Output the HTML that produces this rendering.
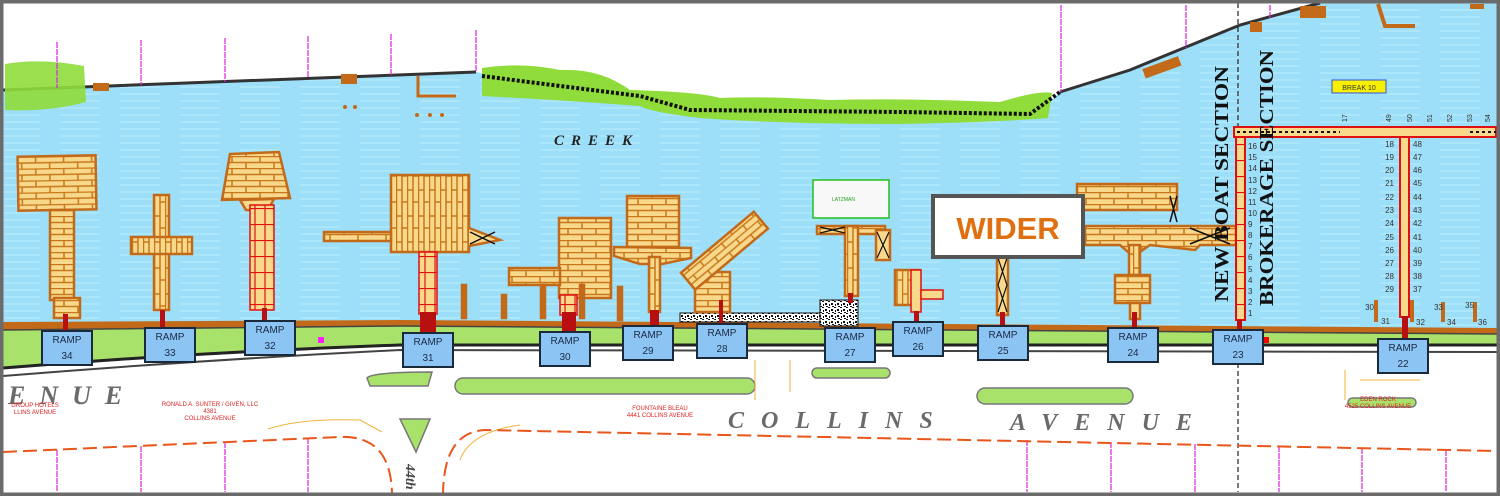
<!DOCTYPE html>
<html><head><meta charset="utf-8"><style>
html,body{margin:0;padding:0;background:#fff}
svg{display:block}
</style></head><body>
<svg width="1500" height="496" viewBox="0 0 1500 496" xmlns="http://www.w3.org/2000/svg" font-family="Liberation Sans, sans-serif">
<defs>
<pattern id="pl" patternUnits="userSpaceOnUse" width="28" height="12">
<rect width="28" height="12" fill="#f8d98c"/>
<path d="M0 0.5H28M0 6.5H28M8 0V6M22 6V12" stroke="#c8781a" stroke-width="1.5"/>
</pattern>
<pattern id="pv" patternUnits="userSpaceOnUse" width="11" height="26">
<rect width="11" height="26" fill="#f8d98c"/>
<path d="M0.5 0V26M6 0V26M0 8H6M6 20H11" stroke="#c8781a" stroke-width="1.5"/>
</pattern>
<pattern id="rg" patternUnits="userSpaceOnUse" width="10" height="16">
<rect width="10" height="16" fill="#f8d98c"/>
<path d="M0 0.5H10M5 0V16" stroke="#e01010" stroke-width="1.2"/>
</pattern>
<pattern id="gr" patternUnits="userSpaceOnUse" width="6" height="6">
<rect width="6" height="6" fill="#fff"/>
<path d="M0 1h2v1H0zM3 3h2v2H3zM1 4h1v2H1zM4 0h2v1H4z" fill="#111"/>
</pattern>
<pattern id="ws" patternUnits="userSpaceOnUse" width="60" height="7">
<rect width="60" height="7" fill="#9ddff8"/>
<path d="M0 3h40" stroke="#b2e8fb" stroke-width="1.5"/>
</pattern>
</defs>

<!-- water -->
<path d="M3 90 L476 72 L560 88 L700 112 L900 116 L1040 112 L1060 92 L1130 70 L1240 25 L1320 3 L1497 3 L1497 330 L400 322 L3 326 Z" fill="url(#ws)"/>
<path d="M3 90 L476 72" stroke="#333" stroke-width="3" fill="none"/>
<path d="M1060 92 L1130 70 L1240 25 L1320 3" stroke="#333" stroke-width="3" fill="none"/>
<path d="M5 64 Q40 58 84 66 L86 102 Q50 112 5 110 Z" fill="#8fdc3a" opacity="0.9"/>
<path d="M482 68 Q520 62 560 70 Q600 68 630 90 Q700 92 720 98 Q760 96 830 100 Q900 98 1000 102 Q1040 90 1052 93 L1048 118 Q1000 122 900 124 Q780 124 700 118 Q650 112 640 106 Q560 100 482 96 Z" fill="#8fdc3a"/>
<path d="M482 76 L560 86 L640 96 L690 110 L900 112 L1030 114 L1060 92" stroke="#111" stroke-width="4" stroke-dasharray="3 2" fill="none"/>
<rect x="93" y="83" width="16" height="8" fill="#c26a1a"/>
<rect x="341" y="74" width="16" height="10" fill="#c26a1a"/>
<path d="M418 76V96H456" stroke="#c26a1a" stroke-width="3" fill="none"/>
<circle cx="345" cy="107" r="2" fill="#c26a1a"/><circle cx="355" cy="107" r="2" fill="#c26a1a"/>
<circle cx="417" cy="115" r="2" fill="#c26a1a"/><circle cx="430" cy="115" r="2" fill="#c26a1a"/><circle cx="442" cy="115" r="2" fill="#c26a1a"/>
<rect x="1143" y="63" width="38" height="10" fill="#c26a1a" transform="rotate(-20 1160 68)"/>
<rect x="1250" y="22" width="12" height="10" fill="#c26a1a"/>
<rect x="1300" y="6" width="26" height="12" fill="#c26a1a"/>
<path d="M1378 4L1385 26H1415" stroke="#c26a1a" stroke-width="4" fill="none"/>
<rect x="1470" y="4" width="14" height="5" fill="#c26a1a"/>
<g stroke="#e020e0" stroke-width="1.2" stroke-dasharray="6 1">
<path d="M57 42V88M141 40V85M225 38V82M308 36V78M391 34V76M476 30V72M1061 5V92M1186 5V48M1270 5V18"/>
<path d="M57 450V492M141 446V492M225 442V492M308 438V492M1027 440V492M1111 442V492M1195 444V492M1279 446V492M1362 448V492M1446 450V492"/>
</g>
<path d="M1238 3V492" stroke="#222" stroke-width="1.2" stroke-dasharray="5 3"/>

<path d="M3 322 L400 320 L1497 328 L1497 334 L400 326 L3 330Z" fill="#c26a1a"/>
<path d="M3 330 L400 326 L1497 334 L1497 345 L400 345 Q200 352 3 368Z" fill="#a8e26a"/>
<path d="M3 368 Q200 352 400 345 L1497 345" stroke="#222" stroke-width="3" fill="none"/>
<path d="M3 376 Q200 360 400 350 L1497 352" stroke="#444" stroke-width="2" fill="none"/>
<path d="M3 330 L400 326 L1497 334" stroke="#444" stroke-width="1.5" fill="none"/>
<rect x="318" y="337" width="6" height="6" fill="#ff20ff"/>
<rect x="680" y="313" width="140" height="9" fill="url(#gr)" stroke="#111"/>
<rect x="820" y="300" width="38" height="26" fill="url(#gr)" stroke="#111"/>

<g fill="#a8e26a" stroke="#777" stroke-width="1.5">
<path d="M367 378 Q372 372 432 372 L428 386 L370 386Z"/>
<path d="M400 419 L430 419 L416 452Z"/>
<rect x="455" y="378" width="300" height="16" rx="8"/>
<rect x="812" y="368" width="78" height="10" rx="5"/>
<rect x="977" y="388" width="156" height="16" rx="8"/>
<rect x="1348" y="398" width="68" height="9" rx="4.5"/>
</g>
<g stroke="#f2b13a" stroke-width="1" fill="none">
<path d="M268 429 Q300 418 360 420 L382 432"/>
<path d="M460 460 Q470 432 520 425"/>
<path d="M755 360 V 400 M790 360V392 M1345 370V400 M1360 380H1420"/>
</g>
<g stroke="#e8561a" stroke-width="2" fill="none">
<path d="M3 452 L340 437 Q392 435 392 496" stroke-dasharray="14 6"/>
<path d="M443 496 Q443 432 485 430 L1497 451" stroke-dasharray="14 6"/>
</g>

<g font-family="Liberation Serif, serif" font-style="italic" font-weight="bold" fill="#6a6a6a">
<text x="8" y="404" font-size="26" letter-spacing="14">ENUE</text>
<text x="728" y="428" font-size="24" letter-spacing="17">COLLINS</text>
<text x="1010" y="430" font-size="24" letter-spacing="17">AVENUE</text>
<text x="554" y="145" font-size="15" letter-spacing="7" fill="#222">CREEK</text>
<text x="410" y="480" font-size="14" transform="rotate(90 416 470)" fill="#444">44th</text>
</g>
<g fill="#e02020" font-size="6" text-anchor="middle">
<text x="35" y="407">GROUP HOTELS</text><text x="35" y="414">LLINS AVENUE</text>
<text x="210" y="406">RONALD A. SUNTER / GIVEN, LLC</text><text x="210" y="413">4381</text><text x="210" y="420">COLLINS AVENUE</text>
<text x="660" y="410">FOUNTAINE BLEAU</text><text x="660" y="417">4441 COLLINS AVENUE</text>
<text x="1378" y="401">EDEN ROCK</text><text x="1378" y="408">4525 COLLINS AVENUE</text>
</g>

<g stroke="#c26a1a" stroke-width="2.5">
<rect x="18" y="156" width="78" height="54" fill="url(#pl)" transform="rotate(-1 57 183)"/>
<rect x="50" y="210" width="24" height="90" fill="url(#pl)"/>
<rect x="54" y="298" width="26" height="20" fill="url(#pl)"/>
<rect x="154" y="195" width="15" height="115" fill="url(#pv)"/>
<rect x="131" y="237" width="61" height="17" fill="url(#pv)"/>
<path d="M230 154 L279 152 L290 198 L222 200Z" fill="url(#pl)"/>
<path d="M240 200 L274 199 L268 210 L246 210Z" fill="#f8d98c"/>
<rect x="250" y="205" width="24" height="105" fill="url(#rg)" stroke="#e01010" stroke-width="1.5"/>
<rect x="391" y="175" width="78" height="77" fill="url(#pv)"/>
<rect x="324" y="232" width="67" height="9" fill="url(#pl)"/>
<rect x="419" y="252" width="18" height="62" fill="url(#rg)" stroke="#e01010" stroke-width="1.5"/>
<path d="M469 228 L500 240 L469 246" fill="#f8d98c"/>
<path d="M470 232 L495 244 M495 232 L470 244" stroke="#111" stroke-width="1.5"/>
<rect x="462" y="285" width="4" height="33" fill="#c26a1a"/>
<rect x="559" y="218" width="52" height="80" fill="url(#pl)"/>
<rect x="509" y="268" width="51" height="17" fill="url(#pl)"/>
<rect x="560" y="295" width="17" height="20" fill="url(#rg)" stroke="#e01010" stroke-width="1.5"/>
<rect x="502" y="295" width="4" height="23" fill="#c26a1a"/>
<rect x="541" y="285" width="4" height="33" fill="#c26a1a"/>
<rect x="580" y="285" width="4" height="33" fill="#c26a1a"/>
<rect x="618" y="287" width="4" height="33" fill="#c26a1a"/>
<rect x="627" y="196" width="52" height="51" fill="url(#pl)"/>
<path d="M614 247 L691 248 L691 258 L662 264 L640 264 L614 256Z" fill="url(#pl)"/>
<rect x="649" y="257" width="11" height="55" fill="url(#pv)"/>
<rect x="695" y="272" width="35" height="40" fill="url(#pl)"/>
<rect x="700" y="255" width="95" height="22" fill="url(#pl)" transform="rotate(-40 715 290)"/>
<rect x="817" y="226" width="68" height="8" fill="url(#pl)"/>
<rect x="845" y="226" width="13" height="70" fill="url(#pv)"/>
<rect x="876" y="230" width="14" height="30" fill="#f8d98c"/>
<path d="M877 232L889 258M889 232L877 258M820 227L845 233M845 227L820 233" stroke="#111" stroke-width="1.2"/>
<rect x="895" y="270" width="25" height="35" fill="url(#pv)"/>
<rect x="911" y="270" width="10" height="42" fill="#f8d98c" stroke="#e01010" stroke-width="1.5"/>
<rect x="921" y="290" width="22" height="9" fill="#f8d98c" stroke="#e01010" stroke-width="1.5"/>
<rect x="997" y="255" width="11" height="60" fill="#f8d98c"/>
<path d="M998 258L1007 285L998 312M1007 258L998 285L1007 312" stroke="#111" stroke-width="1.2" fill="none"/>
<rect x="1077" y="184" width="100" height="26" fill="url(#pl)"/>
<path d="M1170 196L1177 222M1177 196L1170 222" stroke="#111" stroke-width="1.5"/>
<path d="M1085 226 L1236 226 L1236 245 L1200 245 L1195 250 L1150 245 L1140 252 L1128 252 L1120 245 L1085 245Z" fill="url(#pl)"/>
<path d="M1190 228L1230 244M1230 228L1190 244" stroke="#111" stroke-width="1.5"/>
<rect x="1129" y="245" width="11" height="30" fill="url(#pv)"/>
<rect x="1115" y="275" width="35" height="28" fill="url(#pl)"/>
<rect x="1130" y="303" width="10" height="16" fill="#f8d98c"/>
</g>
<rect x="813" y="180" width="76" height="38" fill="#f8f8f8" stroke="#20c020" stroke-width="1.5"/>
<text x="832" y="201" font-size="5" fill="#20a020">LATZMAN</text>
<g stroke="#e01010" stroke-width="2">
<rect x="1234" y="127" width="262" height="10" fill="#f8d98c"/>
<rect x="1236" y="137" width="9" height="183" fill="url(#rg)"/>
<rect x="1400" y="137" width="9" height="180" fill="#f8d98c"/>
</g>
<path d="M1237 132 H1340 M1470 132H1496" stroke="#111" stroke-width="2" stroke-dasharray="3 3"/>
<g stroke="#c26a1a" stroke-width="4"><path d="M1376 300V322M1412 300V322M1443 302V322M1475 302V322"/></g>
<g fill="#b81010">
<rect x="63" y="314" width="5" height="16"/><rect x="160" y="310" width="5" height="18"/>
<rect x="262" y="308" width="5" height="14"/><rect x="420" y="312" width="16" height="21"/>
<rect x="562" y="312" width="14" height="20"/><rect x="650" y="310" width="9" height="16"/>
<rect x="719" y="300" width="4" height="25"/><rect x="848" y="293" width="5" height="10"/>
<rect x="914" y="311" width="5" height="11"/><rect x="1000" y="312" width="5" height="14"/>
<rect x="1132" y="312" width="5" height="16"/><rect x="1237" y="320" width="5" height="10"/>
<rect x="1402" y="316" width="6" height="23"/><rect x="1263" y="337" width="6" height="6" fill="#f00"/>
</g>

<g font-size="10" fill="#1a2a44" text-anchor="middle">
<g stroke="#1a2a3a" stroke-width="2" fill="#8cc4f4">
<rect x="42" y="331" width="50" height="34"/><rect x="145" y="328" width="50" height="34"/>
<rect x="245" y="321" width="50" height="34"/><rect x="403" y="333" width="50" height="34"/>
<rect x="540" y="332" width="50" height="34"/><rect x="623" y="326" width="50" height="34"/>
<rect x="697" y="324" width="50" height="34"/><rect x="825" y="328" width="50" height="34"/>
<rect x="893" y="322" width="50" height="34"/><rect x="978" y="326" width="50" height="34"/>
<rect x="1108" y="328" width="50" height="34"/><rect x="1213" y="330" width="50" height="34"/>
<rect x="1378" y="339" width="50" height="34"/>
</g>
<text x="67" y="343">RAMP</text><text x="67" y="359">34</text>
<text x="170" y="340">RAMP</text><text x="170" y="356">33</text>
<text x="270" y="333">RAMP</text><text x="270" y="349">32</text>
<text x="428" y="345">RAMP</text><text x="428" y="361">31</text>
<text x="565" y="344">RAMP</text><text x="565" y="360">30</text>
<text x="648" y="338">RAMP</text><text x="648" y="354">29</text>
<text x="722" y="336">RAMP</text><text x="722" y="352">28</text>
<text x="850" y="340">RAMP</text><text x="850" y="356">27</text>
<text x="918" y="334">RAMP</text><text x="918" y="350">26</text>
<text x="1003" y="338">RAMP</text><text x="1003" y="354">25</text>
<text x="1133" y="340">RAMP</text><text x="1133" y="356">24</text>
<text x="1238" y="342">RAMP</text><text x="1238" y="358">23</text>
<text x="1403" y="351">RAMP</text><text x="1403" y="367">22</text>
</g>

<rect x="933" y="196" width="150" height="61" fill="#fff" stroke="#555" stroke-width="4"/>
<text x="1008" y="239" font-size="31" font-weight="bold" fill="#e0700f" text-anchor="middle">WIDER</text>

<g font-family="Liberation Serif, serif" font-weight="bold" font-size="20" fill="#111">
<text transform="translate(1228 302) rotate(-90)" textLength="236" lengthAdjust="spacingAndGlyphs">NEW BOAT SECTION</text>
<text transform="translate(1273 306) rotate(-90)" textLength="256" lengthAdjust="spacingAndGlyphs">BROKERAGE SECTION</text>
</g>
<rect x="1332" y="80" width="54" height="13" fill="#f8f000" stroke="#3050e0" stroke-width="1"/>
<text x="1359" y="90" font-size="7" fill="#333" text-anchor="middle">BREAK 10</text>

<g font-size="8" fill="#333">
<text x="1248" y="316">1</text><text x="1248" y="305">2</text><text x="1248" y="294">3</text><text x="1248" y="283">4</text>
<text x="1248" y="272">5</text><text x="1248" y="260">6</text><text x="1248" y="249">7</text><text x="1248" y="238">8</text>
<text x="1248" y="227">9</text><text x="1248" y="216">10</text><text x="1248" y="205">11</text><text x="1248" y="194">12</text>
<text x="1248" y="183">13</text><text x="1248" y="171">14</text><text x="1248" y="160">15</text><text x="1248" y="149">16</text>
</g>
<g font-size="8" fill="#333" text-anchor="end">
<text x="1394" y="147">18</text><text x="1394" y="160">19</text><text x="1394" y="173">20</text><text x="1394" y="186">21</text>
<text x="1394" y="200">22</text><text x="1394" y="213">23</text><text x="1394" y="226">24</text><text x="1394" y="240">25</text>
<text x="1394" y="253">26</text><text x="1394" y="266">27</text><text x="1394" y="279">28</text><text x="1394" y="292">29</text>
<text x="1374" y="310">30</text><text x="1390" y="324">31</text><text x="1443" y="310">33</text><text x="1474" y="308">35</text>
</g>
<g font-size="8" fill="#333">
<text x="1413" y="147">48</text><text x="1413" y="160">47</text><text x="1413" y="173">46</text><text x="1413" y="186">45</text>
<text x="1413" y="200">44</text><text x="1413" y="213">43</text><text x="1413" y="226">42</text><text x="1413" y="240">41</text>
<text x="1413" y="253">40</text><text x="1413" y="266">39</text><text x="1413" y="279">38</text><text x="1413" y="292">37</text>
<text x="1416" y="325">32</text><text x="1447" y="325">34</text><text x="1478" y="325">36</text>
</g>
<g font-size="7" fill="#333">
<text transform="translate(1347 122) rotate(-90)">17</text>
<text transform="translate(1391 122) rotate(-90)">49</text>
<text transform="translate(1412 122) rotate(-90)">50</text>
<text transform="translate(1432 122) rotate(-90)">51</text>
<text transform="translate(1452 122) rotate(-90)">52</text>
<text transform="translate(1472 122) rotate(-90)">53</text>
<text transform="translate(1490 122) rotate(-90)">54</text>
</g>

<rect x="1.5" y="1.5" width="1497" height="493" fill="none" stroke="#6b6b6b" stroke-width="4"/>
</svg>
</body></html>
